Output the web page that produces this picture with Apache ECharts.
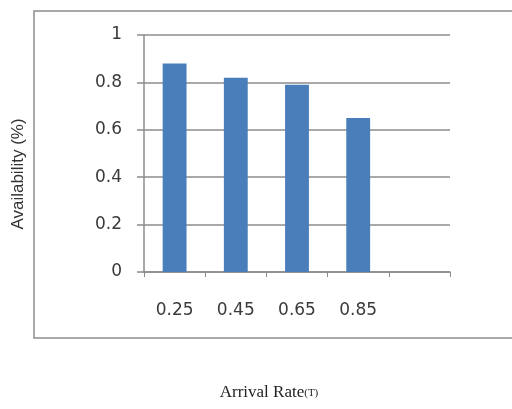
<!DOCTYPE html>
<html>
<head>
<meta charset="utf-8">
<script src="https://cdn.jsdelivr.net/npm/echarts@6/dist/echarts.min.js"></script>
<style>html,body{margin:0;padding:0;background:#fff}#c{width:512px;height:409px}</style>
</head>
<body>
<div id="c"></div>
<script>
const categories = ["0.25", "0.45", "0.65", "0.85", ""];
const availability = [0.88, 0.82, 0.79, 0.65, null];
const yTicks = { min: 0, max: 1, interval: 0.2 };
const yTitle = "Availability (%)";
const xTitle = "Arrival Rate";
const xTitleSuffix = "(T)";

const chart = echarts.init(document.getElementById('c'), null, { renderer: 'canvas' });
chart.setOption({
  animation: false,
  backgroundColor: '#fff',
  grid: { left: 144, right: 62, top: 35, bottom: 137 },
  graphic: [
    { type: 'rect', shape: { x: 34, y: 11, width: 500, height: 327 },
      style: { fill: 'none', stroke: '#8c8c8c', lineWidth: 1.5 }, z: -1 },
    { type: 'text', x: 18, y: 174, rotation: Math.PI / 2,
      style: { text: yTitle, font: '17px "Liberation Sans", Arial, sans-serif', fill: '#333',
               align: 'center', verticalAlign: 'middle' } },
    { type: 'text', x: 269, y: 393,
      style: { text: '{a|' + xTitle + '}{b|' + xTitleSuffix + '}',
               align: 'center', verticalAlign: 'middle',
               rich: { a: { font: '17px "Liberation Serif", "Times New Roman", serif', fill: '#222' },
                       b: { font: '11px "Liberation Serif", "Times New Roman", serif', fill: '#222' } } } }
  ],
  xAxis: {
    type: 'category', data: categories, boundaryGap: true,
    axisLine: { lineStyle: { color: '#8c8c8c', width: 1.5 } },
    axisTick: { show: true, length: 5, lineStyle: { color: '#8c8c8c' } },
    axisLabel: { margin: 30, color: '#3a3a3a', fontSize: 17, fontFamily: '"DejaVu Sans", sans-serif' }
  },
  yAxis: {
    type: 'value', min: yTicks.min, max: yTicks.max, interval: yTicks.interval,
    axisLine: { show: true, lineStyle: { color: '#8c8c8c', width: 1.5 } },
    axisTick: { show: true, length: 7, lineStyle: { color: '#8c8c8c', width: 1.5 } },
    splitLine: { lineStyle: { color: '#8c8c8c', width: 1.5 } },
    axisLabel: { margin: 22, color: '#3a3a3a', fontSize: 17, fontFamily: '"DejaVu Sans", sans-serif',
                 formatter: v => String(Math.round(v * 10) / 10) }
  },
  series: [{
    type: 'bar', data: availability, barWidth: '39%',
    itemStyle: { color: '#4a7ebb' }
  }]
});
</script>
</body>
</html>
